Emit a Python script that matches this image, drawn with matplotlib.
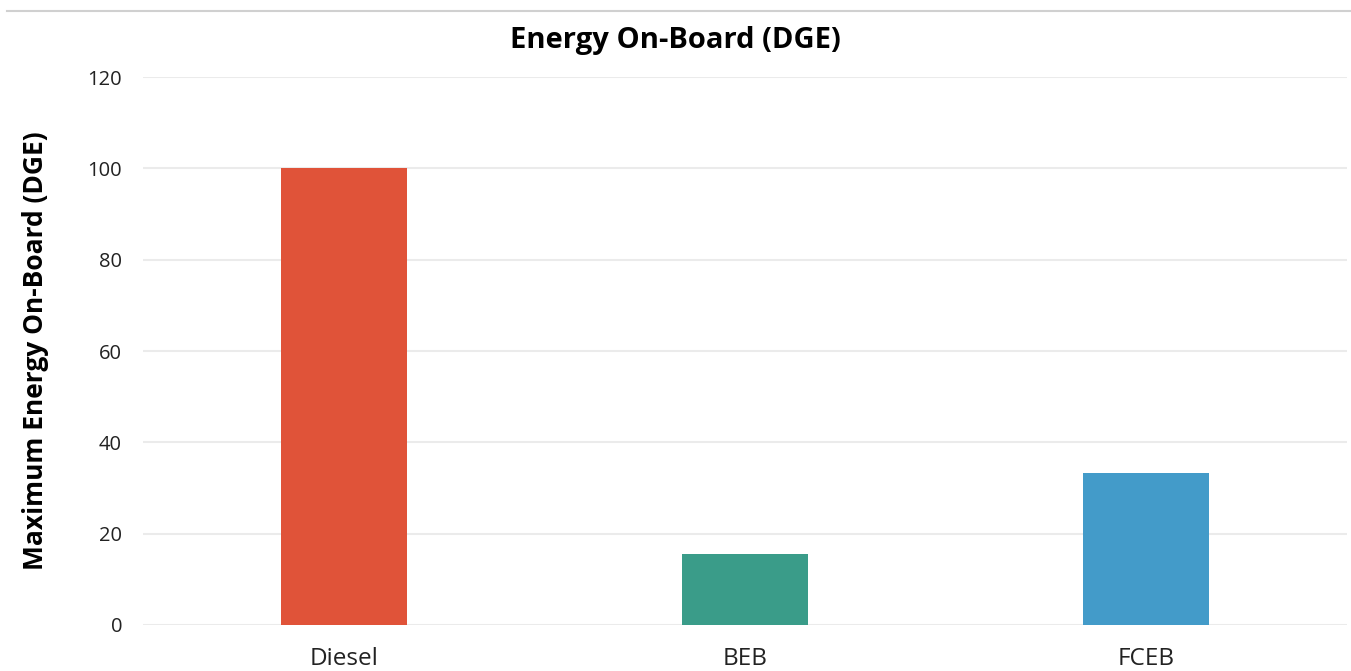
import matplotlib.pyplot as plt
from matplotlib.lines import Line2D

# data
categories = ["Diesel", "BEB", "FCEB"]
energy_dge = [100, 15.5, 33.3]
bar_colors = ["#E05339", "#3A9C89", "#439BC9"]
y_ticks = [0, 20, 40, 60, 80, 100, 120]

fig = plt.figure(figsize=(13.51, 6.71), dpi=100)
ax = fig.add_axes([0.1058, 0.0686, 0.8912, 0.8166])

ax.bar(range(len(categories)), energy_dge, width=0.314, color=bar_colors, zorder=3)

ax.set_xlim(-0.5, 2.5)
ax.set_ylim(0, 120)
ax.set_yticks(y_ticks)
ax.set_xticks(range(len(categories)))
ax.set_xticklabels(categories, fontsize=17.5, family="Open Sans", color="#222222")
for t in ax.get_yticklabels():
    t.set_fontsize(14.5)
    t.set_family("Open Sans")
    t.set_color("#222222")

ax.grid(axis="y", color="#EBEBEB", linewidth=1.5, zorder=0)
for s in ax.spines.values():
    s.set_visible(False)
ax.tick_params(axis="both", length=0)
ax.tick_params(axis="y", pad=15)
ax.tick_params(axis="x", pad=16)

ax.set_ylabel("Maximum Energy On-Board (DGE)", fontsize=19, fontweight="bold",
              family="Open Sans", labelpad=28)
fig.text(0.5, 0.94, "Energy On-Board (DGE)", ha="center", va="center",
         fontsize=21, fontweight="bold", family="Open Sans")

# thin rule at the top
fig.add_artist(Line2D([0.005, 1.0], [0.984, 0.984], color="#D0D0D0", linewidth=1.5))

fig.savefig("out.png", dpi=100)
